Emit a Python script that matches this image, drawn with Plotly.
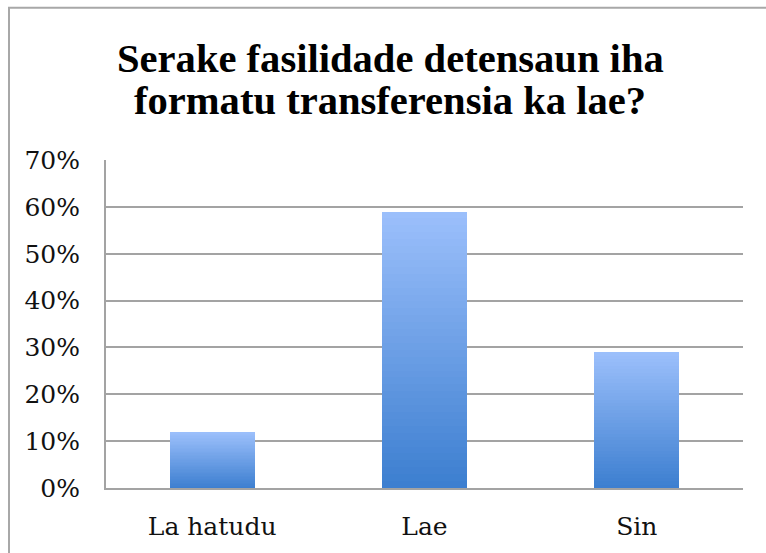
import plotly.graph_objects as go

categories = ["La hatudu", "Lae", "Sin"]
values = [0.12, 0.59, 0.29]
title_lines = ["Serake fasilidade detensaun iha", "formatu transferensia ka lae?"]
tick_vals = [0, 0.1, 0.2, 0.3, 0.4, 0.5, 0.6, 0.7]

W, H = 766, 553
PL, PR, PT, PB = 106, 743, 160, 492   # plot box on screen
ML, MT, MR, MB = PL, PT, W - PR, H - PB
pw, ph = PR - PL, PB - PT

top_rgb = (155, 191, 251)
bot_rgb = (61, 127, 208)
N = 40

fig = go.Figure()
for k in range(N):
    t = k / (N - 1)
    c = tuple(round(b + (a - b) * t) for a, b in zip(top_rgb, bot_rgb))
    fig.add_trace(go.Bar(
        x=categories,
        y=[v / N for v in values],
        marker=dict(color="rgb(%d,%d,%d)" % c, line=dict(width=0)),
        showlegend=False,
        hoverinfo="skip",
    ))

def px_x(p):
    return (p - PL) / pw

def px_y(p):
    return (PB - p) / ph

annotations = []
for line, ypx in zip(title_lines, [57, 100]):
    annotations.append(dict(
        text="<b>" + line + "</b>", xref="paper", yref="paper",
        x=px_x(390), y=px_y(ypx), xanchor="center", yanchor="middle",
        showarrow=False,
        font=dict(family="'Liberation Serif', Tinos, 'Times New Roman', serif",
                  size=40.6, color="#000000"),
    ))

fig.update_layout(
    width=W, height=H,
    margin=dict(l=ML, r=MR, t=MT, b=MB, pad=0),
    barmode="stack", bargap=0.6,
    plot_bgcolor="white", paper_bgcolor="white",
    annotations=annotations,
    shapes=[dict(type="rect", xref="paper", yref="paper",
                 x0=px_x(9), x1=px_x(790), y0=px_y(580), y1=px_y(6),
                 line=dict(color="#a8a8a8", width=2), fillcolor="rgba(0,0,0,0)",
                 layer="above")],
    font=dict(family="DejaVu Serif", size=25, color="#111111"),
)
fig.update_yaxes(
    range=[0, 0.7001], tickvals=tick_vals, tickformat=".0%",
    showgrid=True, gridcolor="#a3a3a3", gridwidth=2,
    showline=True, linecolor="#a3a3a3", linewidth=2,
    ticks="outside", ticklen=19, tickcolor="rgba(0,0,0,0)",
    zeroline=False,
)
fig.update_xaxes(
    showline=True, linecolor="#a3a3a3", linewidth=2,
    ticks="outside", ticklen=15, tickcolor="rgba(0,0,0,0)",
    showgrid=False,
)
fig.write_html("out.html", config={"displayModeBar": False},
               post_script="document.body.style.margin='0';")
